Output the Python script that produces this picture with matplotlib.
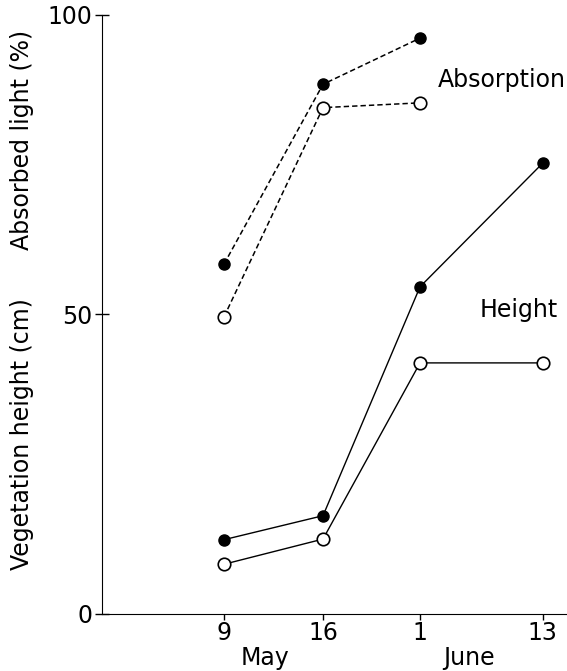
import matplotlib
matplotlib.use("Agg")
import matplotlib.pyplot as plt

plt.rcParams['font.family'] = ['DejaVu Sans']

# sampling dates
day_labels = ['9', '16', '1', '13']
month_labels = ['May', 'June']

# absorbed light (%)
absorb_filled = [58.4, 88.4, 96.1]
absorb_open = [49.6, 84.5, 85.3]

# vegetation height (cm)
height_filled = [12.4, 16.4, 54.6, 75.2]
height_open = [8.3, 12.5, 41.9, 41.9]

x_pos = [0, 1.01, 2.0, 3.25]
fs = 17

fig = plt.figure(figsize=(5.67, 6.71), dpi=100)
ax = fig.add_axes([0.18, 0.085, 0.82, 0.893])

ax.plot(x_pos[:3], absorb_filled, 'k--', lw=1.1, dashes=(3.5, 2),
        marker='o', ms=8, mfc='black', mec='black')
ax.plot(x_pos[:3], absorb_open, 'k--', lw=1.1, dashes=(3.5, 2),
        marker='o', ms=9, mfc='white', mec='black', mew=1.2)
ax.plot(x_pos, height_filled, 'k-', lw=1.0,
        marker='o', ms=8, mfc='black', mec='black')
ax.plot(x_pos, height_open, 'k-', lw=1.0,
        marker='o', ms=9, mfc='white', mec='black', mew=1.2)

ax.set_xlim(-1.245, 3.5)
ax.set_ylim(0, 100)
ax.spines['top'].set_visible(False)
ax.spines['right'].set_visible(False)

ax.set_yticks([0, 50, 100])
ax.set_yticklabels(['0', '50', '100'], fontsize=fs)
ax.yaxis.set_tick_params(direction='inout', length=10, width=1, pad=2)
ax.set_xticks(x_pos)
ax.set_xticklabels(day_labels, fontsize=fs)
ax.xaxis.set_tick_params(direction='out', length=4, width=1, pad=1)

xt = ax.get_xaxis_transform()
ax.text(0.42, -0.073, month_labels[0], transform=xt, fontsize=fs,
        ha='center', va='center')
ax.text(2.5, -0.073, month_labels[1], transform=xt, fontsize=fs,
        ha='center', va='center')

ax.text(2.18, 89.1, 'Absorption', fontsize=fs, ha='left', va='center')
ax.text(2.61, 50.7, 'Height', fontsize=fs, ha='left', va='center')

fig.text(0.039, 0.791, 'Absorbed light (%)', rotation=90, fontsize=fs,
         ha='center', va='center')
fig.text(0.039, 0.353, 'Vegetation height (cm)', rotation=90, fontsize=fs,
         ha='center', va='center')

fig.savefig('out.png', dpi=100)
